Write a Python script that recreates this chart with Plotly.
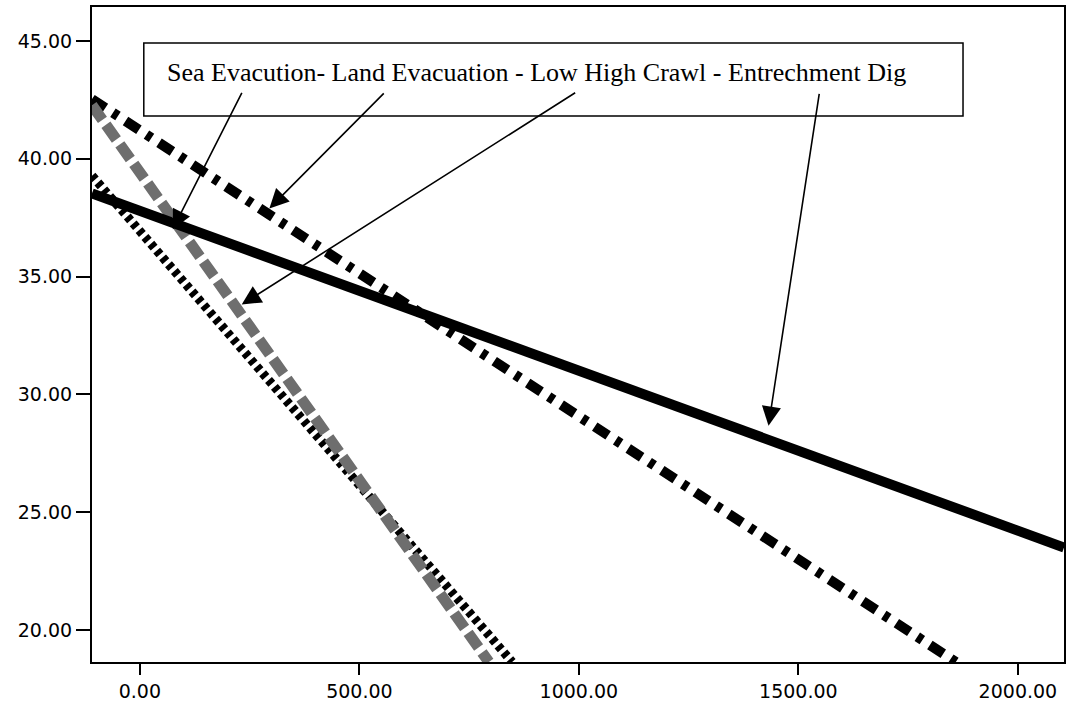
import plotly.graph_objects as go

# Regression lines: x/y endpoints of each fitted line
series_names = ["Sea Evacution", "Land Evacuation", "Low High Crawl", "Entrechment Dig"]
sea_x = [-109, 848]
sea_y = [39.28, 18.64]
land_x = [-109, 1859]
land_y = [42.53, 18.64]
crawl_x = [-109, 795]
crawl_y = [42.27, 18.64]
dig_x = [-109, 2105]
dig_y = [38.53, 23.50]

x_ticks = [0, 500, 1000, 1500, 2000]
y_ticks = [20, 25, 30, 35, 40, 45]

fig = go.Figure()

styles = [
    dict(color="black", width=9, dash="5px,4px"),
    dict(color="black", width=10, dash="16px,9px,6px,9px"),
    dict(color="#6e6e6e", width=11, dash="18px,6px"),
    dict(color="black", width=10, dash="solid"),
]
for name, xs, ys, st in zip(series_names,
                            [sea_x, land_x, crawl_x, dig_x],
                            [sea_y, land_y, crawl_y, dig_y],
                            styles):
    fig.add_trace(go.Scatter(x=xs, y=ys, mode="lines", name=name,
                             line=st, showlegend=False, hoverinfo="skip"))

# Caption box
fig.add_shape(type="rect", xref="x", yref="y",
              x0=9, x1=1875, y0=41.81, y1=44.91,
              line=dict(color="black", width=1.5), fillcolor="white", layer="above")
fig.add_annotation(xref="x", yref="y", x=57, y=43.65, xanchor="left", yanchor="middle",
                   text="Sea Evacution- Land Evacuation - Low High Crawl - Entrechment Dig",
                   showarrow=False,
                   font=dict(family="Liberation Serif", size=26, color="black"))

# Arrows from caption words to their lines
arrows = [
    (234, 42.86, 75, 37.01),
    (559, 42.84, 295, 37.89),
    (995, 42.84, 232, 33.81),
    (1548, 42.82, 1432, 28.67),
]
for ax_, ay_, x_, y_ in arrows:
    fig.add_annotation(xref="x", yref="y", axref="x", ayref="y",
                       x=x_, y=y_, ax=ax_, ay=ay_, text="",
                       showarrow=True, arrowhead=2, arrowsize=2.4,
                       arrowwidth=1.6, arrowcolor="black", standoff=0)

axis_font = dict(family="DejaVu Sans", size=19, color="black")
fig.update_xaxes(range=[-109, 2105], tickvals=x_ticks,
                 ticktext=[f"{v:.2f}" for v in x_ticks],
                 showgrid=False, zeroline=False,
                 showline=True, linecolor="black", linewidth=2, mirror=True,
                 ticks="outside", ticklen=11, tickwidth=2, tickcolor="black",
                 tickfont=axis_font)
fig.update_yaxes(range=[18.64, 46.44], tickvals=y_ticks,
                 ticktext=[f"{v:.2f}" for v in y_ticks],
                 showgrid=False, zeroline=False,
                 showline=True, linecolor="black", linewidth=2, mirror=True,
                 ticks="outside", ticklen=14, tickwidth=2, tickcolor="black",
                 tickfont=axis_font)

fig.update_layout(width=1070, height=706,
                  margin=dict(l=92, r=4, t=7, b=41),
                  paper_bgcolor="white", plot_bgcolor="white")

fig.write_html("out.html")
